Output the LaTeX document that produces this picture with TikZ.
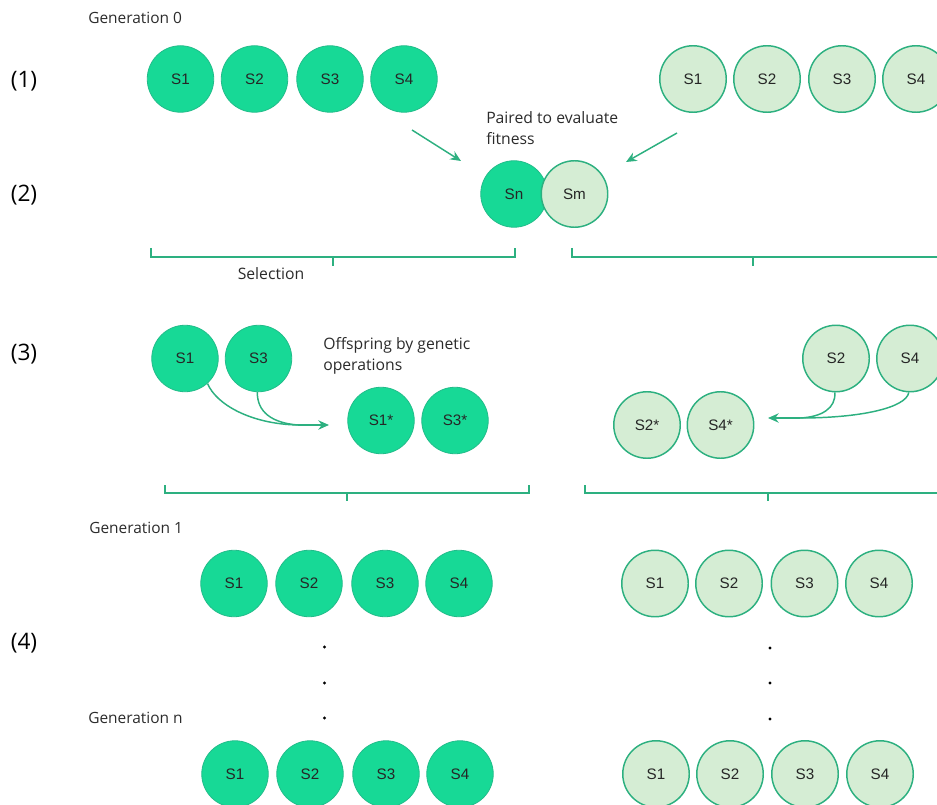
\documentclass[tikz,border=0pt]{standalone}
\usepackage{fontspec}
\setmainfont{Liberation Sans}
\newfontfamily\notefont{Open Sans}
\usetikzlibrary{arrows.meta}

\definecolor{darkfill}{HTML}{17D996}
\definecolor{darkedge}{HTML}{22BC8A}
\definecolor{lightfill}{HTML}{D5EDD4}
\definecolor{lightedge}{HTML}{2DB080}
\definecolor{linegreen}{HTML}{2DB080}
\definecolor{inkgrey}{HTML}{2B2B2B}

\tikzset{
  dark/.style={circle, minimum size=66.5pt*0.75, inner sep=0pt, fill=darkfill,
    draw=darkedge, line width=0.6pt, font=\fontsize{11.4}{13}\selectfont, text=black!85},
  light/.style={circle, minimum size=66.5pt*0.75, inner sep=0pt, fill=lightfill,
    draw=lightedge, line width=1.1pt, font=\fontsize{11.4}{13}\selectfont, text=black!85},
  note/.style={font=\notefont\fontsize{11.8}{15.8}\selectfont, text=inkgrey, inner sep=0pt},
  gen/.style={font=\notefont\fontsize{11.6}{13}\selectfont, text=inkgrey, inner sep=0pt, anchor=west},
  stage/.style={font=\notefont\fontsize{17}{20}\selectfont, text=black, inner sep=0pt},
  bracket/.style={draw=linegreen, line width=1.2pt},
  flow/.style={draw=linegreen, line width=1.1pt, -{Stealth[length=8pt,width=7pt]}},
  dotmark/.style={circle, fill=black, inner sep=0pt, minimum size=2.4pt},
}

\begin{document}
\begin{tikzpicture}[x=0.75pt, y=-0.75pt]
\useasboundingbox (0,0) rectangle (937,805);

% stage numbers
\node[stage] (st1) at (24,81) {(1)};
\node[stage] (st2) at (24,195) {(2)};
\node[stage] (st3) at (24,354) {(3)};
\node[stage] (st4) at (24,643) {(4)};

% generation labels
\node[gen] (g0) at (88,18) {Generation 0};
\node[gen] (g1) at (89,528) {Generation 1};
\node[gen] (gn) at (88,718) {Generation n};

% (1) initial populations
\node[dark] (a1) at (180.5,79) {S1};
\node[dark] (a2) at (254.5,79) {S2};
\node[dark] (a3) at (330,79) {S3};
\node[dark] (a4) at (404,79) {S4};

\node[light] (b1) at (693,79) {S1};
\node[light] (b2) at (767,79) {S2};
\node[light] (b3) at (842,79) {S3};
\node[light] (b4) at (916,79) {S4};

% (2) pairing
\node[note, align=left, anchor=north west] (pair) at (486,111) {Paired to evaluate\\fitness};
\node[dark] (sn) at (514,194) {Sn};
\node[light] (sm) at (574.5,194) {Sm};

\coordinate (pa0) at (412,130);
\coordinate (pa1) at (461,161);
\coordinate (pb0) at (677,133);
\coordinate (pb1) at (626,162);
\draw[flow] (pa0) -- (pa1);
\draw[flow] (pb0) -- (pb1);

% selection brackets
\coordinate (sl0) at (151,248);
\coordinate (sl1) at (515,248);
\coordinate (slm) at (333,257);
\draw[bracket] (sl0) -- ++(0,9) -| (sl1);
\draw[bracket] (slm) -- ++(0,9);
\node[note] (sel) at (271,274) {Selection};

\coordinate (sr0) at (572,248);
\coordinate (sr1) at (940,248);
\coordinate (srm) at (753,257);
\draw[bracket] (sr0) -- ++(0,9) -| (sr1);
\draw[bracket] (srm) -- ++(0,9);

% (3) genetic operations, left
\node[dark] (c1) at (185,358.5) {S1};
\node[dark] (c3) at (258.5,358.5) {S3};
\node[note, align=left, anchor=north west] (off) at (323,337) {Offspring by genetic\\operations};
\node[dark] (o1) at (381,420.5) {S1*};
\node[dark] (o3) at (455,420.5) {S3*};

\coordinate (lj) at (298,425);
\coordinate (lt) at (329,425);
\draw[draw=linegreen, line width=1.1pt] (c1.-48) .. controls (216,404) and (250,424) .. (lj);
\draw[draw=linegreen, line width=1.1pt] (c3.-92) .. controls (257,412) and (272,423) .. (lj);
\draw[flow] (lj) -- (lt);

% (3) genetic operations, right
\node[light] (d2) at (836,358.5) {S2};
\node[light] (d4) at (910,358.5) {S4};
\node[light] (p2) at (647,425) {S2*};
\node[light] (p4) at (720.5,425) {S4*};

\coordinate (rj) at (800,418);
\coordinate (rt) at (768,418);
\draw[draw=linegreen, line width=1.1pt] (d2.-92) .. controls (836,408) and (822,417) .. (rj);
\draw[draw=linegreen, line width=1.1pt] (d4.-92) .. controls (906,408) and (860,418) .. (rj);
\draw[flow] (rj) -- (rt);

% offspring brackets
\coordinate (ol0) at (165,485);
\coordinate (ol1) at (529,485);
\coordinate (olm) at (347,493);
\draw[bracket] (ol0) -- ++(0,8) -| (ol1);
\draw[bracket] (olm) -- ++(0,8);

\coordinate (or0) at (585,485);
\coordinate (or1) at (940,485);
\coordinate (orm) at (768,493);
\draw[bracket] (or0) -- ++(0,8) -| (or1);
\draw[bracket] (orm) -- ++(0,8);

% (4) generation 1
\node[dark] (e1) at (234,583.5) {S1};
\node[dark] (e2) at (309,583.5) {S2};
\node[dark] (e3) at (385,583.5) {S3};
\node[dark] (e4) at (459,583.5) {S4};

\node[light] (f1) at (655,583.5) {S1};
\node[light] (f2) at (729,583.5) {S2};
\node[light] (f3) at (804.5,583.5) {S3};
\node[light] (f4) at (879,583.5) {S4};

% continuation dots
\node[dotmark] (ld1) at (324.5,647) {};
\node[dotmark] (ld2) at (324.5,683) {};
\node[dotmark] (ld3) at (324.5,718) {};
\node[dotmark] (rd1) at (770,648) {};
\node[dotmark] (rd2) at (770,683) {};
\node[dotmark] (rd3) at (770,719) {};

% generation n
\node[dark] (h1) at (235,774) {S1};
\node[dark] (h2) at (310,774) {S2};
\node[dark] (h3) at (386,774) {S3};
\node[dark] (h4) at (460,774) {S4};

\node[light] (k1) at (656,774) {S1};
\node[light] (k2) at (730,774) {S2};
\node[light] (k3) at (805,774) {S3};
\node[light] (k4) at (880,774) {S4};
\end{tikzpicture}
\end{document}
